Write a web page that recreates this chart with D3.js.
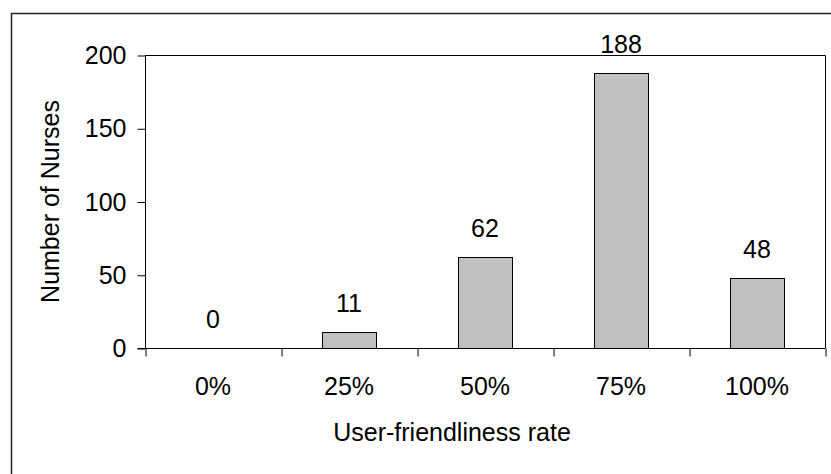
<!DOCTYPE html>
<html>
<head>
<meta charset="utf-8">
<script src="https://cdn.jsdelivr.net/npm/d3@7"></script>
<style>
  body { margin: 0; background: #fff; }
  svg text { font-family: 'Liberation Sans', Arial, sans-serif; fill: #000; }
</style>
</head>
<body>
<svg id="chart" width="831" height="474"></svg>
<script>
const categories = ["0%", "25%", "50%", "75%", "100%"]
const nurses = [0, 11, 62, 188, 48]
const yTicks = [0, 50, 100, 150, 200]

const plot = { left: 145, right: 825, top: 55, bottom: 348 }
const fontSize = 25

const svg = d3.select("#chart")

// outer frame (only top and left edges fall inside the picture)
svg.append("rect")
  .attr("x", 11.5).attr("y", 13.5)
  .attr("width", 900).attr("height", 600)
  .attr("fill", "none")
  .attr("stroke", "#222")
  .attr("stroke-width", 1.5)

const xScale = d3.scaleBand()
  .domain(categories)
  .range([plot.left, plot.right])
  .padding(0)

const yScale = d3.scaleLinear()
  .domain([0, 200])
  .range([plot.bottom, plot.top])

// plot area frame: top and right
svg.append("path")
  .attr("d", `M${plot.left},${plot.top + 0.5}H${plot.right + 0.5}V${plot.bottom}`)
  .attr("fill", "none")
  .attr("stroke", "#000")

const barWidth = 54

svg.append("g")
  .selectAll("rect")
  .data(nurses)
  .join("rect")
  .attr("x", (d, i) => Math.round(xScale(categories[i]) + xScale.bandwidth() / 2 - barWidth / 2) + 0.5)
  .attr("y", d => Math.round(yScale(d)) + 0.5)
  .attr("width", barWidth)
  .attr("height", d => plot.bottom - Math.round(yScale(d)))
  .attr("fill", d => d > 0 ? "#c0c0c0" : "none")
  .attr("stroke", d => d > 0 ? "#000" : "none")

// value labels
svg.append("g")
  .selectAll("text")
  .data(nurses)
  .join("text")
  .attr("x", (d, i) => xScale(categories[i]) + xScale.bandwidth() / 2)
  .attr("y", d => yScale(d) - 20)
  .attr("text-anchor", "middle")
  .style("font-size", fontSize + "px")
  .text(d => d)

// y axis
const yAxis = svg.append("g")
  .attr("transform", `translate(${plot.left + 0.5},0.5)`)
  .call(d3.axisLeft(yScale).tickValues(yTicks).tickSize(8).tickPadding(11).tickSizeOuter(0))
yAxis.select(".domain").attr("d", `M0,${plot.top}V${plot.bottom}`)
yAxis.selectAll("text").style("font-size", fontSize + "px").attr("font-family", null)

// x axis: boundary ticks
const edgeScale = d3.scaleLinear().domain([0, categories.length]).range([plot.left, plot.right])
const xTicks = svg.append("g")
  .attr("transform", `translate(0.5,${plot.bottom + 0.5})`)
  .call(d3.axisBottom(edgeScale).ticks(categories.length).tickFormat("").tickSize(8).tickSizeOuter(0))
xTicks.select(".domain").attr("d", `M${plot.left - 8},0H${plot.right}`)

// x axis: category labels
const xLabels = svg.append("g")
  .attr("transform", `translate(0,${plot.bottom})`)
  .call(d3.axisBottom(xScale).tickSize(0).tickPadding(29))
xLabels.select(".domain").remove()
xLabels.selectAll("text").style("font-size", fontSize + "px").attr("font-family", null)

svg.selectAll(".domain, .tick line").attr("stroke", "#000")

// axis titles
svg.append("text")
  .attr("x", 452)
  .attr("y", 441)
  .attr("text-anchor", "middle")
  .style("font-size", fontSize + "px")
  .text("User-friendliness rate")

svg.append("text")
  .attr("transform", `translate(59,${(plot.top + plot.bottom) / 2}) rotate(-90)`)
  .attr("text-anchor", "middle")
  .style("font-size", fontSize + "px")
  .text("Number of Nurses")
</script>
</body>
</html>
